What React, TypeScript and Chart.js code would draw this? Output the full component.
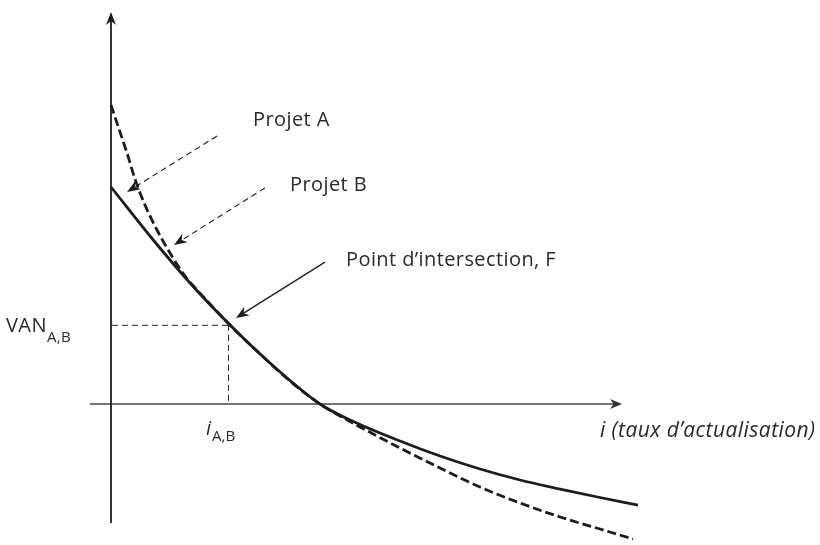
import React, { useEffect, useRef } from "react";
import { Chart, registerables } from "chart.js";

Chart.register(...registerables);

// Discount rate i (%) and NPV (VAN) values for each project
const RATE_A = [0, 3.333, 6.752, 10.0, 13.59, 17.86, 20.43, 24.7, 28.12, 31.54, 34.96, 38.38, 41.79, 45.04];
const VAN_A = [98.64, 76.36, 55.0, 36.82, 18.64, 0, -7.27, -16.82, -23.64, -29.55, -34.55, -38.64, -42.5, -45.91];

const RATE_B = [0, 0.598, 1.368, 2.051, 2.906, 3.932, 5.043, 6.325, 8.034, 10.0, 12.74, 15.3, 17.86, 20.43, 24.7, 28.12, 31.54, 34.96, 38.38, 41.79, 44.62];
const VAN_B = [135.91, 126.36, 114.09, 102.27, 90.45, 79.09, 68.64, 58.18, 47.95, 36.82, 22.73, 10.45, 0, -7.95, -20.0, -29.09, -37.73, -45.0, -51.36, -56.82, -61.36];

const I_AB = 10.0;
const VAN_AB = 36;

const LABEL_A = "Projet A";
const LABEL_B = "Projet B";
const LABEL_F = "Point d\u2019intersection, F";
const LABEL_X = "i (taux d\u2019actualisation)";

// scale extents (data units)
const X_MIN = -9.487;
const X_MAX = 60.598;
const Y_MIN = -64.09;
const Y_MAX = 183.64;

// axis line extents (data units)
const AXIS_X_FROM = -1.79;
const AXIS_X_TO = 43.68;
const AXIS_Y_FROM = -54.1;
const AXIS_Y_TO = 178.2;

const INK = "#1c1c1c";
const TEXT = "#2a2a2a";
const FONT = "'Open Sans', 'Noto Sans', sans-serif";

function arrowHead(ctx: CanvasRenderingContext2D, x1: number, y1: number, x2: number, y2: number, len: number, hw: number) {
  const a = Math.atan2(y2 - y1, x2 - x1);
  const dx = Math.cos(a), dy = Math.sin(a);
  const px = -dy, py = dx;
  ctx.beginPath();
  ctx.moveTo(x2, y2);
  ctx.lineTo(x2 - len * dx + hw * px, y2 - len * dy + hw * py);
  ctx.lineTo(x2 - len * 0.7 * dx, y2 - len * 0.7 * dy);
  ctx.lineTo(x2 - len * dx - hw * px, y2 - len * dy - hw * py);
  ctx.closePath();
  ctx.fill();
  return [x2 - len * 0.7 * dx, y2 - len * 0.7 * dy];
}

const annotations = {
  id: "annotations",
  beforeDatasetsDraw(chart: any) {
    const { ctx, scales } = chart;
    const xs = scales.x, ys = scales.y;
    const px = (v: number) => xs.getPixelForValue(v);
    const py = (v: number) => ys.getPixelForValue(v);
    ctx.save();
    // axes
    ctx.strokeStyle = "#444";
    ctx.lineWidth = 1.6;
    const x0 = px(0), y0 = py(0);
    const xEnd = px(AXIS_X_TO);
    const yTop = py(AXIS_Y_TO);
    ctx.beginPath();
    ctx.moveTo(px(AXIS_X_FROM), y0);
    ctx.lineTo(xEnd - 8, y0);
    ctx.stroke();
    ctx.fillStyle = "#333";
    arrowHead(ctx, px(AXIS_X_FROM), y0, xEnd, y0, 12, 5);
    ctx.strokeStyle = INK;
    ctx.fillStyle = INK;
    ctx.lineWidth = 1.8;
    ctx.beginPath();
    ctx.moveTo(x0, py(AXIS_Y_FROM));
    ctx.lineTo(x0, yTop + 8);
    ctx.stroke();
    arrowHead(ctx, x0, py(AXIS_Y_FROM), x0, yTop, 13, 5);

    // guides
    ctx.lineWidth = 1;
    ctx.strokeStyle = "#222";
    ctx.setLineDash([6, 4]);
    ctx.beginPath();
    ctx.moveTo(x0 + 1, py(VAN_AB) + 0.5);
    ctx.lineTo(px(I_AB), py(VAN_AB) + 0.5);
    ctx.moveTo(px(I_AB) + 0.5, py(VAN_AB));
    ctx.lineTo(px(I_AB) + 0.5, y0);
    ctx.stroke();
    ctx.setLineDash([]);
    ctx.restore();
  },
  afterDatasetsDraw(chart: any) {
    const { ctx, scales } = chart;
    const xs = scales.x, ys = scales.y;
    const px = (v: number) => xs.getPixelForValue(v);
    const py = (v: number) => ys.getPixelForValue(v);
    ctx.save();
    ctx.fillStyle = INK;
    ctx.strokeStyle = INK;
    const arrows: [number, number, number, number, boolean][] = [
      [9.06, 121.8, 1.37, 96.4, true],
      [13.16, 98.2, 5.38, 72.3, true],
      [18.29, 64.5, 10.68, 39.1, false],
    ];
    for (const [a, b, c, d, dashed] of arrows) {
      const x1 = px(a), y1 = py(b), x2 = px(c), y2 = py(d);
      const [nx, ny] = arrowHead(ctx, x1, y1, x2, y2, 13, 5);
      ctx.lineWidth = dashed ? 1.1 : 1.3;
      ctx.setLineDash(dashed ? [6, 4] : []);
      ctx.beginPath();
      ctx.moveTo(x1, y1);
      ctx.lineTo(nx, ny);
      ctx.stroke();
    }
    ctx.setLineDash([]);

    // labels
    ctx.fillStyle = TEXT;
    ctx.textBaseline = "alphabetic";
    ctx.textAlign = "left";
    ctx.font = `20px ${FONT}`;
    (ctx as any).letterSpacing = "0.4px";
    ctx.fillText(LABEL_A, px(12.14), py(126.4));
    ctx.fillText(LABEL_B, px(15.3), py(96.8));
    ctx.fillText(LABEL_F, px(20.09), py(62.7));
    // VAN_{A,B}
    const vx = px(-8.97), vy = py(32.7);
    ctx.fillText("VAN", vx, vy);
    const vw = ctx.measureText("VAN").width;
    ctx.font = `15px ${FONT}`;
    ctx.fillText("A,B", vx + vw, vy + 10);
    (ctx as any).letterSpacing = "0px";
    // i_{A,B}
    ctx.font = `italic 20px ${FONT}`;
    const ix = px(8.12), iy = py(-14.1);
    ctx.fillText("i", ix, iy);
    const iw = ctx.measureText("i").width;
    ctx.font = `15px ${FONT}`;
    ctx.fillText("A,B", ix + iw + 1, iy + 6);
    // x-axis title
    ctx.font = `italic 21px ${FONT}`;
    (ctx as any).letterSpacing = "0.45px";
    ctx.fillText(LABEL_X, px(41.79), py(-15.0));
    ctx.restore();
  },
};

export default function App() {
  const ref = useRef<HTMLCanvasElement | null>(null);
  useEffect(() => {
    if (!ref.current) return;
    const chart = new Chart(ref.current, {
      type: "scatter",
      data: {
        datasets: [
          {
            label: LABEL_A,
            data: RATE_A.map((x, i) => ({ x, y: VAN_A[i] })),
            showLine: true,
            borderColor: INK,
            borderWidth: 2.8,
            pointRadius: 0,
            cubicInterpolationMode: "monotone",
          },
          {
            label: LABEL_B,
            data: RATE_B.map((x, i) => ({ x, y: VAN_B[i] })),
            showLine: true,
            borderColor: INK,
            borderWidth: 2.8,
            borderDash: [9, 4],
            pointRadius: 0,
            cubicInterpolationMode: "monotone",
          },
        ],
      },
      options: {
        responsive: false,
        animation: false,
        layout: { padding: 0 },
        plugins: { legend: { display: false }, tooltip: { enabled: false }, title: { display: false } },
        events: [],
        scales: {
          x: { type: "linear", min: X_MIN, max: X_MAX, display: false },
          y: { type: "linear", min: Y_MIN, max: Y_MAX, display: false },
        },
      },
      plugins: [annotations],
    });
    return () => chart.destroy();
  }, []);
  return (
    <div style={{ position: "fixed", left: 0, top: 0, width: 820, height: 545, background: "#fff" }}>
      <canvas ref={ref} width={820} height={545} style={{ display: "block" }} />
    </div>
  );
}
